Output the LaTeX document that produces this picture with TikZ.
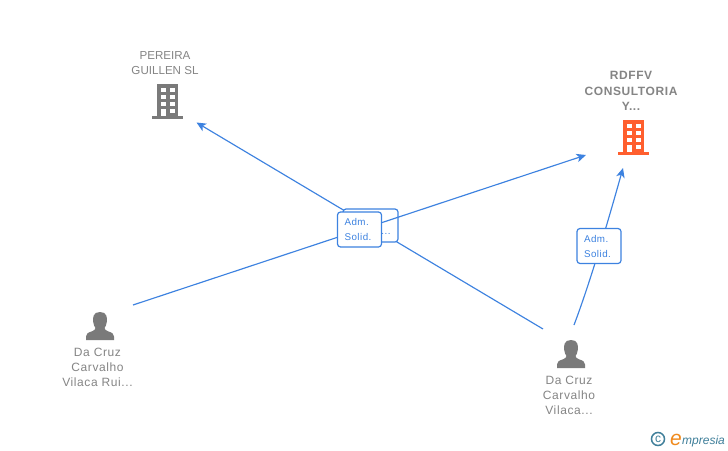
\documentclass[tikz,border=0pt]{standalone}
\usepackage{fontspec}
\setmainfont{Liberation Sans}
\newfontfamily\spacedfont[LetterSpace=5]{Liberation Sans}
\definecolor{linkblue}{HTML}{3D82E0}
\definecolor{labelgray}{HTML}{858585}
\definecolor{icongray}{HTML}{7A7A7A}
\definecolor{iconorange}{HTML}{FF5F2E}
\definecolor{logoteal}{HTML}{3F7F9A}
\definecolor{logoorange}{HTML}{F08A1D}
\usetikzlibrary{arrows.meta}
\tikzset{
  link/.style={draw=linkblue,line width=1.15pt},
  tip/.style={-{Stealth[length=9.5pt,width=8.5pt,inset=2.5pt]}},
  relbox/.style={draw=linkblue,line width=1.2pt,fill=white,rounded corners=3pt,minimum width=44pt,minimum height=35pt,inner sep=0pt,align=left,text=linkblue,font=\spacedfont\fontsize{9.8}{15}\selectfont},
  nametext/.style={align=center,text=labelgray,font=\spacedfont\fontsize{12}{15}\selectfont,inner sep=0pt},
  plainname/.style={align=center,text=labelgray,font=\fontsize{11.6}{15}\selectfont,inner sep=0pt},
  boldname/.style={nametext,font=\spacedfont\fontsize{12}{15.5}\selectfont\bfseries},
  pics/building/.style={code={
    \fill[#1] (-10.5,-17) rectangle (10.5,15);
    \fill[#1] (-15.5,15) rectangle (15.5,18);
    \foreach \yy in {-13.5,-6.5,0.5}{
      \fill[white] (-7,\yy) rectangle (-2,\yy+4);
      \fill[white] (2.5,\yy) rectangle (7.5,\yy+4);
    }
    \fill[white] (2.5,7.5) rectangle (7.5,11.5);
    \fill[white] (-7,7.5) rectangle (-2,15);
  }},
  pics/person/.style={code={
    \fill[icongray] (0,-14) .. controls (-6.5,-14) and (-7.5,-9) .. (-6.8,-4)
      .. controls (-6.3,-1) and (-5.5,1) .. (-4.5,2)
      .. controls (-4.5,3.5) and (-6,4.5) .. (-8,5.3)
      .. controls (-12,6.7) and (-14,7.5) .. (-14,10.5) -- (-14,14) -- (14,14) -- (14,10.5)
      .. controls (14,7.5) and (12,6.7) .. (8,5.3)
      .. controls (6,4.5) and (4.5,3.5) .. (4.5,2)
      .. controls (5.5,1) and (6.3,-1) .. (6.8,-4)
      .. controls (7.5,-9) and (6.5,-14) .. (0,-14) -- cycle;
  }}
}
\begin{document}
\begin{tikzpicture}[x=1pt,y=-1pt]
\useasboundingbox (0,0) rectangle (728,450);
\fill[white] (0,0) rectangle (728,450);
% endpoints of the connectors
\coordinate (ruiStart) at (133,305);
\coordinate (rdffvTipA) at (586,155);
\coordinate (vilStartA) at (543,329);
\coordinate (pereiraTip) at (196.5,122.5);
\coordinate (vilStartB) at (574,325);
\coordinate (rdffvTipB) at (623,168);
% connectors
\draw[link,tip] (vilStartA) -- (pereiraTip);
\node[relbox,minimum width=55pt,minimum height=33pt] (boxBack) at (370.5,225.5) {};
\node[text=linkblue,font=\spacedfont\fontsize{9.8}{11}\selectfont,inner sep=0pt] (boxBackText) at (386,233.5) {...};
\draw[link,tip] (ruiStart) -- (rdffvTipA);
\draw[link,tip] (vilStartB) .. controls (585,296) and (600,250) .. (rdffvTipB);
% relation boxes
\node[relbox,text width=30pt,align=left] (boxFront) at (359.5,229.5) {Adm.\\Solid.};
\node[relbox,text width=30pt,align=left] (boxRight) at (599,246) {Adm.\\Solid.};
% companies
\node[plainname] (pereira) at (165,63) {PEREIRA\\GUILLEN SL};
\pic at (167.5,101) {building=icongray};
\node[boldname] (rdffv) at (631,91) {RDFFV\\CONSULTORIA\\Y...};
\pic at (633.5,137) {building=iconorange};
% people
\pic at (100,326) {person};
\node[nametext] (rui) at (97.5,367.5) {Da Cruz\\Carvalho\\Vilaca Rui...};
\pic at (571,354) {person};
\node[nametext] (vilaca) at (569,395.5) {Da Cruz\\Carvalho\\Vilaca...};
% logo
\node[draw=logoteal,line width=1.5pt,circle,minimum size=13pt,inner sep=0pt,text=logoteal,font=\fontsize{12}{12}\selectfont] (copyright) at (658,439) {c};
\node[anchor=base west,inner sep=0pt,text=logoorange,font=\fontsize{21}{21}\selectfont\itshape] (logoE) at (670,445) {e};
\node[anchor=base west,inner sep=0pt,text=logoteal,font=\fontsize{12}{12}\selectfont\itshape] (logoText) at (682,444) {mpresia};
\end{tikzpicture}
\end{document}
